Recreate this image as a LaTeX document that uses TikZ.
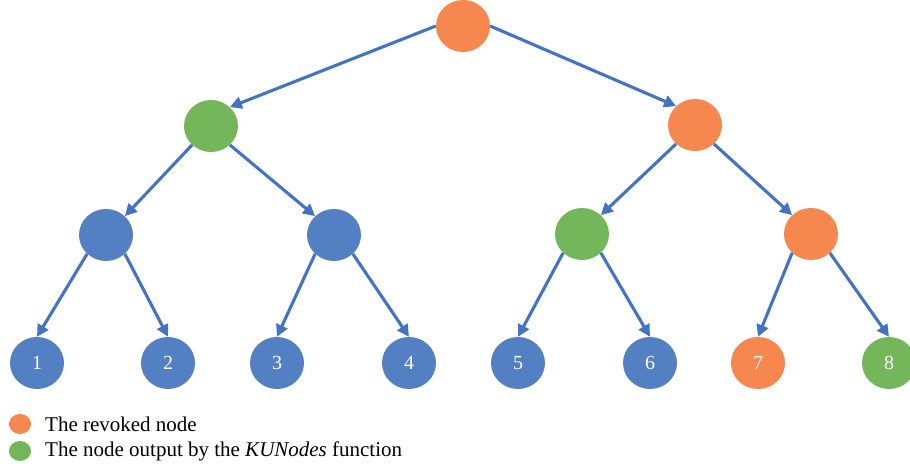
\documentclass[tikz,border=0pt]{standalone}
\usepackage{fontspec}
\setmainfont{Liberation Serif}
\usetikzlibrary{shapes.geometric,arrows.meta}
\definecolor{revoked}{HTML}{F5874F}
\definecolor{kunode}{HTML}{74B75A}
\definecolor{plain}{HTML}{5280C2}
\definecolor{edge}{HTML}{4472C4}
\tikzset{
  tnode/.style={ellipse,minimum width=54pt,minimum height=52pt,inner sep=0pt,
    text=white,font=\fontsize{20}{23}\selectfont},
  rv/.style={tnode,fill=revoked},
  ku/.style={tnode,fill=kunode},
  pl/.style={tnode,fill=plain},
  link/.style={draw=edge,line width=3.1pt,-{Triangle[length=12pt,width=12pt]}},
  legdot/.style={ellipse,minimum width=22pt,minimum height=20pt,inner sep=0pt},
  legtext/.style={anchor=west,inner sep=0pt,font=\fontsize{21}{25}\selectfont}
}
\begin{document}
\begin{tikzpicture}[x=1pt,y=-1pt]
\clip (0,0) rectangle (910,466);
\fill[white] (0,0) rectangle (910,466);
% root and inner levels
\node[rv] (r)  at (463,26) {};
\node[ku] (a)  at (211,126) {};
\node[rv] (b)  at (695,125) {};
\node[pl] (c1) at (106,235) {};
\node[pl] (c2) at (334,235) {};
\node[ku] (c3) at (582,234) {};
\node[rv] (c4) at (811,234) {};
% leaves
\node[pl] (l1) at (37,363)  {1};
\node[pl] (l2) at (168,363) {2};
\node[pl] (l3) at (277,363) {3};
\node[pl] (l4) at (409,363) {4};
\node[pl] (l5) at (518,363) {5};
\node[pl] (l6) at (650,363) {6};
\node[rv] (l7) at (758,363) {7};
\node[ku] (l8) at (889,363) {8};
% edges between connection points
\draw[link] (r.west) -- (a.45);
\draw[link] (r.east) -- (b.135);
\draw[link] (a.-135) -- (c1.45);
\draw[link] (a.-45) -- (c2.135);
\draw[link] (b.-135) -- (c3.45);
\draw[link] (b.-45) -- (c4.135);
\draw[link] (c1.-135) -- (l1.north);
\draw[link] (c1.-45) -- (l2.north);
\draw[link] (c2.-135) -- (l3.north);
\draw[link] (c2.-45) -- (l4.north);
\draw[link] (c3.-135) -- (l5.north);
\draw[link] (c3.-45) -- (l6.north);
\draw[link] (c4.-135) -- (l7.north);
\draw[link] (c4.-45) -- (l8.north);
% legend
\node[legdot,fill=revoked] (k1) at (20,424) {};
\node[legdot,fill=kunode] (k2) at (20,451) {};
\node[legtext] (t1) at (45,424) {The revoked node};
\node[legtext] (t2) at (45,451) {The node output by the \textit{KUNodes} function};
\end{tikzpicture}
\end{document}
